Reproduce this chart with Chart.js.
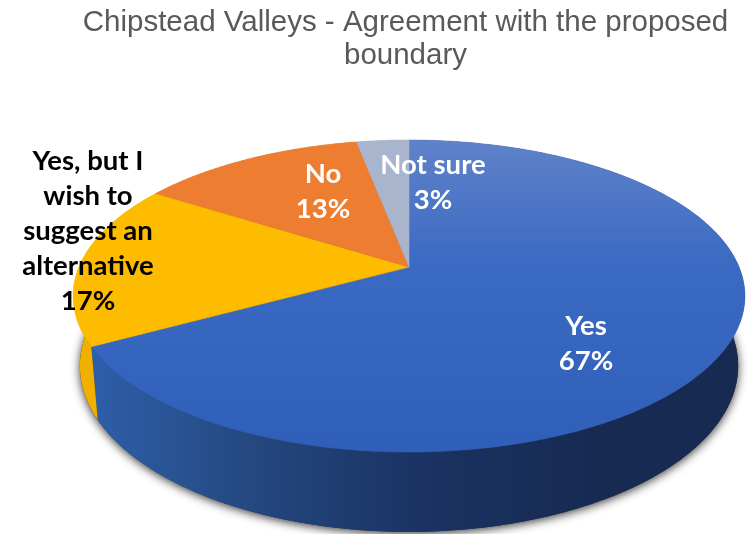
<!DOCTYPE html>
<html>
<head>
<meta charset="utf-8">
<style>
  html, body { margin: 0; padding: 0; background: #fff; }
  canvas { display: block; }
</style>
<script src="https://cdn.jsdelivr.net/npm/chart.js@4"></script>
</head>
<body>
<canvas id="chart" width="751" height="534"></canvas>
<script>
const titleLines = ['Chipstead Valleys - Agreement with the proposed', 'boundary'];
const categories = ['Yes', 'Yes, but I wish to suggest an alternative', 'No', 'Not sure'];
const shares = [67, 17, 13, 3];
const sliceColours = ['#3a69c2', '#fdbc00', '#ed7d31', '#a9b4cd'];
const labelColours = ['#ffffff', '#000000', '#ffffff', '#ffffff'];
const labelCentres = [[586, 344], [88, 231], [323, 192], [433, 183]];

// Tilted disc seen in perspective: apex of the wedges, radii, foreshortening,
// and the inset lower rim that gives the disc its thickness.
const disc = { x: 409, y: 267, a: 330, b: 150.6, p: 0.186, lowerScale: 0.98, drop: 68 };
const labelFont = 'bold 27.5px Lato';
const lineStep = 35;
const wrapWidth = 145;

function rim(theta, lower) {
  const u = Math.cos(theta), v = Math.sin(theta);
  const w = 1 - disc.p * v;
  const s = lower ? disc.lowerScale : 1;
  return [disc.x + s * disc.a * u / w, disc.y + ((lower ? disc.drop : 0) + s * disc.b * v) / w];
}

function arcPoints(start, end, lower) {
  const n = Math.max(2, Math.ceil((end - start) / 0.01));
  const pts = [];
  for (let i = 0; i <= n; i++) pts.push(rim(start + (end - start) * i / n, lower));
  return pts;
}

function tracePolygon(ctx, pts) {
  ctx.beginPath();
  pts.forEach((p, i) => (i ? ctx.lineTo(p[0], p[1]) : ctx.moveTo(p[0], p[1])));
  ctx.closePath();
}

function wrapText(ctx, text) {
  const lines = [];
  let line = '';
  text.split(' ').forEach(word => {
    const next = line ? line + ' ' + word : word;
    if (line && ctx.measureText(next).width > wrapWidth) { lines.push(line); line = word; }
    else line = next;
  });
  lines.push(line);
  return lines;
}

const perspectivePie = {
  id: 'perspectivePie',
  beforeDatasetsDraw(chart) {
    const ctx = chart.ctx;
    const arcs = chart.getDatasetMeta(0).data;
    ctx.save();

    // soft shadow under the lower rim
    ctx.save();
    ctx.shadowColor = 'rgba(40,40,40,0.9)';
    ctx.shadowBlur = 10;
    ctx.shadowOffsetY = 2;
    ctx.fillStyle = '#333';
    tracePolygon(ctx, arcPoints(0, Math.PI * 2, true));
    ctx.fill();
    ctx.restore();

    // outer wall of each slice
    const wall = ctx.createLinearGradient(88, 0, 745, 0);
    wall.addColorStop(0, '#2e5fab');
    wall.addColorStop(0.25, '#24487f');
    wall.addColorStop(0.5, '#1b3364');
    wall.addColorStop(0.78, '#162a52');
    wall.addColorStop(1, '#162a52');
    arcs.forEach((arc, i) => {
      const pts = arcPoints(arc.startAngle, arc.endAngle, false)
        .concat(arcPoints(arc.startAngle, arc.endAngle, true).reverse());
      tracePolygon(ctx, pts);
      ctx.fillStyle = i === 0 ? wall : i === 1 ? '#efb000' : sliceColours[i];
      ctx.fill();
    });

    // upper face; a hairline stroke closes the seams between wedges
    const face = ctx.createLinearGradient(0, 140, 0, 452);
    face.addColorStop(0, '#5f82c9');
    face.addColorStop(0.4, '#3b6ac3');
    face.addColorStop(1, '#2f5fb9');
    ctx.lineWidth = 0.6;
    arcs.forEach((arc, i) => {
      tracePolygon(ctx, [[disc.x, disc.y]].concat(arcPoints(arc.startAngle, arc.endAngle, false)));
      const paint = i === 0 ? face : sliceColours[i];
      ctx.fillStyle = paint;
      ctx.strokeStyle = paint;
      ctx.fill();
      ctx.stroke();
    });

    // slice captions
    ctx.font = labelFont;
    ctx.textAlign = 'center';
    ctx.textBaseline = 'middle';
    categories.forEach((name, i) => {
      const lines = wrapText(ctx, name).concat(shares[i] + '%');
      const top = labelCentres[i][1] - (lines.length - 1) * lineStep / 2;
      ctx.fillStyle = labelColours[i];
      lines.forEach((text, j) => ctx.fillText(text, labelCentres[i][0], top + j * lineStep));
    });

    ctx.restore();
    return false;
  }
};

new Chart(document.getElementById('chart'), {
  type: 'pie',
  data: {
    labels: categories,
    datasets: [{ data: shares, backgroundColor: sliceColours, borderWidth: 0 }]
  },
  plugins: [perspectivePie],
  options: {
    responsive: false,
    animation: false,
    layout: { padding: { left: 60, top: 0 } },
    plugins: {
      legend: { display: false },
      tooltip: { enabled: false },
      title: {
        display: true,
        text: titleLines,
        color: '#595959',
        font: { family: 'Liberation Sans', size: 29.5, weight: 'normal', lineHeight: 1.12 },
        padding: { top: 6, bottom: 10 }
      }
    }
  }
});
</script>
</body>
</html>
